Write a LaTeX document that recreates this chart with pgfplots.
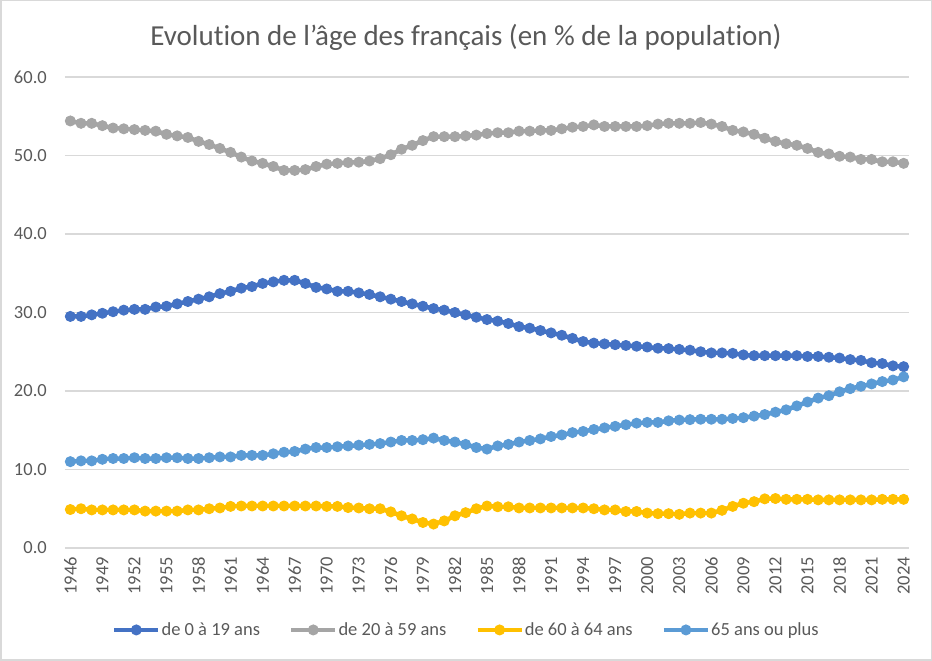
\documentclass[border=0pt]{standalone}
\usepackage{pgfplots}
\pgfplotsset{compat=1.18}
\usepackage{pgfplotstable}
\usepackage{fontspec}
\setmainfont{Carlito}[Ligatures={NoCommon}]

\definecolor{c1}{HTML}{4472C4}
\definecolor{c2}{HTML}{A5A5A5}
\definecolor{c3}{HTML}{FFC000}
\definecolor{c4}{HTML}{5B9BD5}
\definecolor{gridc}{HTML}{D9D9D9}
\definecolor{txt}{HTML}{595959}

% year, 0-19, 20-59, 60-64, 65+
\pgfplotstableread{
year a b c d
1946 29.5 54.4 4.9 11.0
1947 29.5 54.1 5.0 11.1
1948 29.7 54.1 4.85 11.1
1949 29.9 53.8 4.85 11.3
1950 30.1 53.5 4.85 11.4
1951 30.3 53.4 4.85 11.4
1952 30.4 53.3 4.85 11.5
1953 30.4 53.2 4.7 11.4
1954 30.7 53.1 4.7 11.4
1955 30.8 52.7 4.7 11.5
1956 31.1 52.5 4.7 11.5
1957 31.4 52.3 4.85 11.4
1958 31.7 51.8 4.85 11.4
1959 32.0 51.4 5.0 11.5
1960 32.4 50.9 5.1 11.6
1961 32.7 50.4 5.3 11.6
1962 33.1 49.8 5.35 11.8
1963 33.3 49.3 5.35 11.8
1964 33.7 49.0 5.35 11.8
1965 33.9 48.6 5.35 12.0
1966 34.1 48.1 5.35 12.2
1967 34.1 48.1 5.35 12.3
1968 33.7 48.2 5.35 12.6
1969 33.2 48.6 5.35 12.8
1970 33.0 48.9 5.3 12.8
1971 32.7 49.0 5.3 12.9
1972 32.7 49.1 5.15 13.0
1973 32.5 49.15 5.1 13.1
1974 32.3 49.3 5.0 13.2
1975 32.0 49.6 5.0 13.3
1976 31.7 50.1 4.6 13.5
1977 31.4 50.8 4.1 13.7
1978 31.1 51.3 3.7 13.7
1979 30.8 51.9 3.25 13.8
1980 30.5 52.4 3.05 14.0
1981 30.3 52.4 3.45 13.7
1982 30.0 52.4 4.1 13.5
1983 29.7 52.5 4.5 13.2
1984 29.4 52.6 5.0 12.8
1985 29.1 52.8 5.35 12.6
1986 28.9 52.9 5.25 13.0
1987 28.6 52.9 5.25 13.2
1988 28.2 53.1 5.1 13.5
1989 28.0 53.1 5.1 13.7
1990 27.7 53.2 5.1 13.9
1991 27.4 53.2 5.1 14.2
1992 27.1 53.4 5.1 14.4
1993 26.7 53.6 5.1 14.7
1994 26.3 53.7 5.1 14.85
1995 26.1 53.9 5.0 15.1
1996 26.0 53.7 4.85 15.3
1997 25.9 53.7 4.85 15.5
1998 25.8 53.7 4.65 15.7
1999 25.7 53.7 4.65 15.9
2000 25.6 53.8 4.45 16.0
2001 25.45 54.0 4.37 16.0
2002 25.4 54.1 4.37 16.2
2003 25.3 54.1 4.29 16.3
2004 25.2 54.1 4.45 16.35
2005 25.0 54.2 4.45 16.4
2006 24.85 54.0 4.45 16.4
2007 24.85 53.7 4.8 16.4
2008 24.8 53.2 5.3 16.5
2009 24.6 53.0 5.7 16.6
2010 24.5 52.7 5.9 16.8
2011 24.5 52.2 6.26 17.0
2012 24.5 51.8 6.3 17.3
2013 24.5 51.5 6.2 17.6
2014 24.5 51.3 6.2 18.1
2015 24.4 50.9 6.2 18.6
2016 24.4 50.4 6.13 19.1
2017 24.3 50.2 6.13 19.4
2018 24.2 49.9 6.13 19.9
2019 24.0 49.8 6.13 20.3
2020 23.9 49.5 6.13 20.6
2021 23.6 49.5 6.13 20.9
2022 23.5 49.2 6.2 21.2
2023 23.2 49.2 6.2 21.4
2024 23.1 49.0 6.2 21.8
}\agetable

\begin{document}
\begin{tikzpicture}
\path[use as bounding box] (0pt,0pt) rectangle (932pt,661pt);
\draw[gridc, line width=1.5pt] (0.75pt,0.75pt) rectangle (931.25pt,660.25pt);
\node[anchor=base, text=txt, font=\fontsize{29}{34}\selectfont]
  at (466pt,615pt) {Evolution de l\symbol{"27}âge des français (en \% de la population)};

\begin{axis}[
  at={(65pt,113pt)}, anchor=south west,
  scale only axis, width=844pt, height=471pt,
  xmin=1945.5, xmax=2024.5, ymin=0, ymax=60,
  xtick={1946,1949,...,2024}, ytick={0,10,...,60},
  major tick length=0pt,
  axis line style={draw=none},
  ymajorgrids, grid style={gridc, line width=1.3pt},
  /pgf/number format/assume math mode=true,
  tick label style={font=\fontsize{18.5}{22}\selectfont, text=txt, inner sep=0pt},
  xticklabel style={rotate=90, anchor=east, /pgf/number format/1000 sep={}},
  xticklabel shift=9pt,
  yticklabel style={anchor=east, /pgf/number format/.cd, fixed, fixed zerofill, precision=1},
  yticklabel shift=18pt,
  clip=false,
  every axis plot/.append style={line width=4.5pt, line join=round, mark=*, mark size=5pt, mark options={line width=1pt}},
  legend columns=4,
  legend image code/.code={\draw[mark repeat=2, mark phase=2, #1] plot coordinates {(0pt,0pt) (22pt,0pt) (44pt,0pt)};},
  legend style={draw=none, fill=none, at={(0.475,-0.174)}, anchor=center,
    font=\fontsize{18.5}{22}\selectfont, text=txt, nodes={inner sep=1pt},
    /tikz/every even column/.append style={column sep=28pt}},
]
\addplot[c1] table[x=year, y=a] {\agetable};
\addplot[c2] table[x=year, y=b] {\agetable};
\addplot[c3] table[x=year, y=c] {\agetable};
\addplot[c4] table[x=year, y=d] {\agetable};
\legend{de 0 à 19 ans, de 20 à 59 ans, de 60 à 64 ans, 65 ans ou plus}
\end{axis}
\end{tikzpicture}
\end{document}
